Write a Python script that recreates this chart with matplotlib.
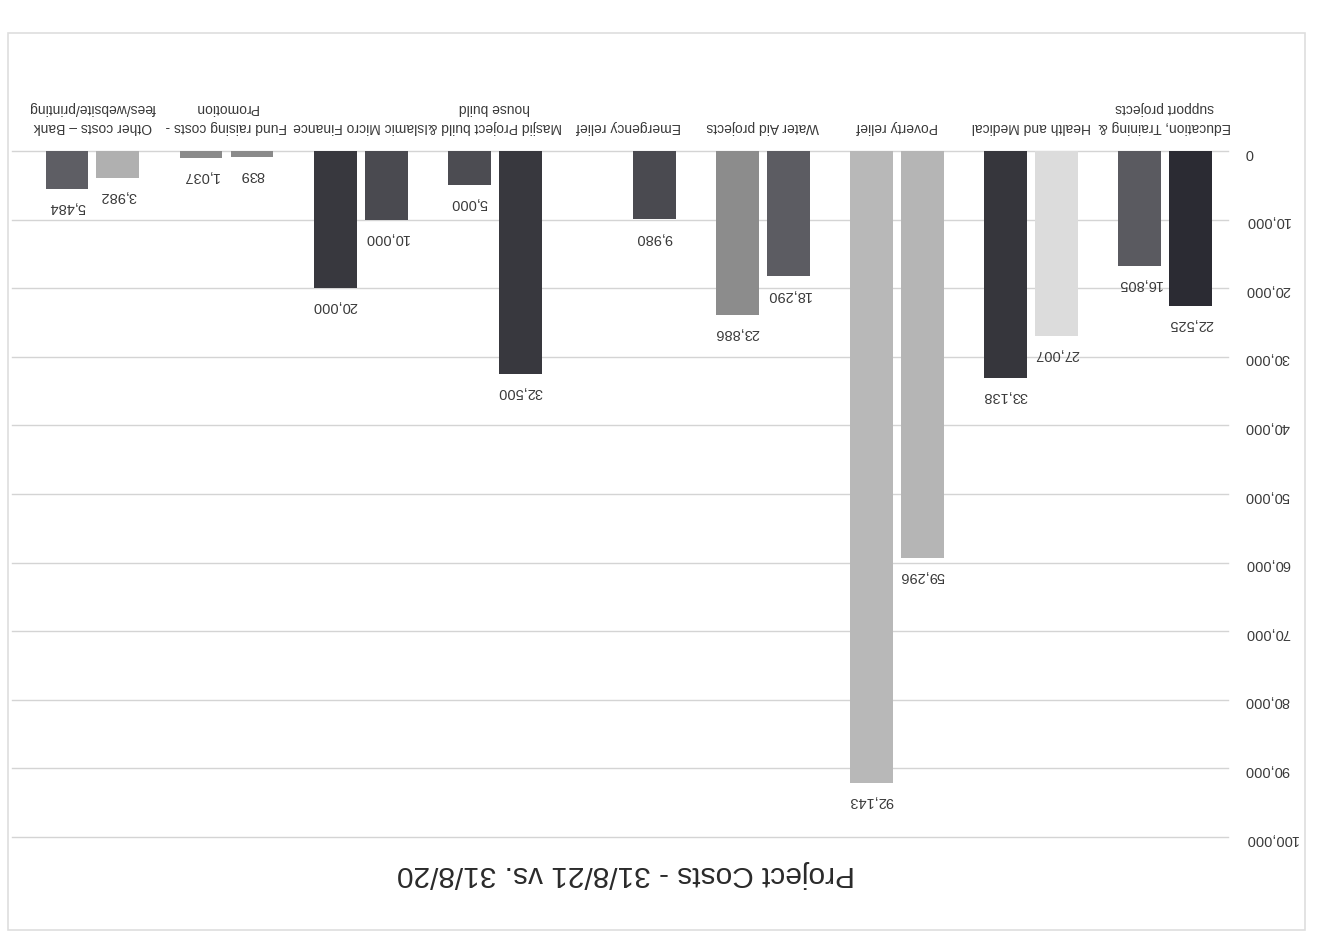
import numpy as np
import matplotlib
matplotlib.use("Agg")
import matplotlib.pyplot as plt
from matplotlib import font_manager
from matplotlib.patches import Rectangle
from matplotlib.ticker import FuncFormatter

# ---------------- data ----------------
categories = [
    "Education, Training &\nsupport projects",
    "Health and Medical",
    "Poverty relief",
    "Water Aid projects",
    "Emergency relief",
    "Masjid Project build &\nhouse build",
    "Islamic Micro Finance",
    "Fund raising costs -\nPromotion",
    "Other costs \u2013 Bank\nfees/website/printing",
]
costs_first = [22525, 27007, 59296, 18290, 9980, 32500, 10000, 839, 3982]
costs_second = [16805, 33138, 92143, 23886, np.nan, 5000, 20000, 1037, 5484]
y_ticks = [0, 10000, 20000, 30000, 40000, 50000, 60000, 70000, 80000, 90000, 100000]
title = "Project Costs - 31/8/21 vs. 31/8/20"

# ---------------- styles ----------------
colors_first = ["#2b2b33", "#dcdcdc", "#b5b5b5", "#5c5c62", "#4a4a50",
                "#38383e", "#4a4a50", "#8a8a8a", "#b0b0b0"]
colors_second = ["#5a5a60", "#36363c", "#b8b8b8", "#8c8c8c", "#4a4a50",
                 "#4c4c52", "#38383e", "#8a8a8a", "#5e5e64"]

avail = {f.name for f in font_manager.fontManager.ttflist}
fam = "Liberation Sans Narrow" if "Liberation Sans Narrow" in avail else "Liberation Sans"
plt.rcParams["font.family"] = [fam, "DejaVu Sans"]
text_color = "#3a3a3a"

W, H = 1323, 942
fig = plt.figure(figsize=(W / 100, H / 100), dpi=100)
fig.patch.set_facecolor("white")

# axes placement (image is upside down)
left_px, right_px = 12, 1228
zero_px, full_px = 151, 837
ax = fig.add_axes([left_px / W, 1 - full_px / H, (right_px - left_px) / W, (full_px - zero_px) / H])

x = np.arange(len(categories))
off = 0.19
bw = 0.32
ax.bar(x - off, costs_first, width=bw, color=colors_first, zorder=3)
ax.bar(x + off, costs_second, width=bw, color=colors_second, zorder=3)

for xi, v in zip(x - off, costs_first):
    if not np.isnan(v):
        ax.annotate(f"{int(v):,}", (xi, v), xytext=(0, -13), textcoords="offset points",
                    ha="center", va="center", rotation=180, fontsize=10.5, color=text_color)
for xi, v in zip(x + off, costs_second):
    if not np.isnan(v):
        ax.annotate(f"{int(v):,}", (xi, v), xytext=(0, -13), textcoords="offset points",
                    ha="center", va="center", rotation=180, fontsize=10.5, color=text_color)

ax.set_xlim(8.6, -0.47)
ax.set_ylim(100000, 0)

ax.set_yticks(y_ticks)
ax.yaxis.set_major_formatter(FuncFormatter(lambda v, p: f"{int(v):,}"))
ax.yaxis.tick_right()
ax.tick_params(axis="y", length=0, pad=12, labelsize=10.5, labelcolor=text_color, labelrotation=180)

ax.set_xticks(x)
ax.set_xticklabels(categories, linespacing=1.5)
ax.xaxis.tick_top()
ax.tick_params(axis="x", length=0, pad=12, labelsize=10, labelcolor=text_color, labelrotation=180)

ax.grid(axis="y", color="#d4d4d4", linewidth=1, zorder=0)
ax.grid(axis="x", visible=False)
for gl in ax.get_ygridlines():
    gl.set_clip_on(False)
for s in ax.spines.values():
    s.set_visible(False)

fig.text(626 / W, 1 - 874 / H, title, rotation=180, ha="center", va="center",
         fontsize=21.5, color="#2a2a2a")

# faint chart frame
fig.patches.append(Rectangle((8 / W, 1 - 930 / H), (1305 - 8) / W, (930 - 33) / H,
                             transform=fig.transFigure, fill=False,
                             edgecolor="#dedede", linewidth=1.2))

fig.savefig("out.png", dpi=100)
